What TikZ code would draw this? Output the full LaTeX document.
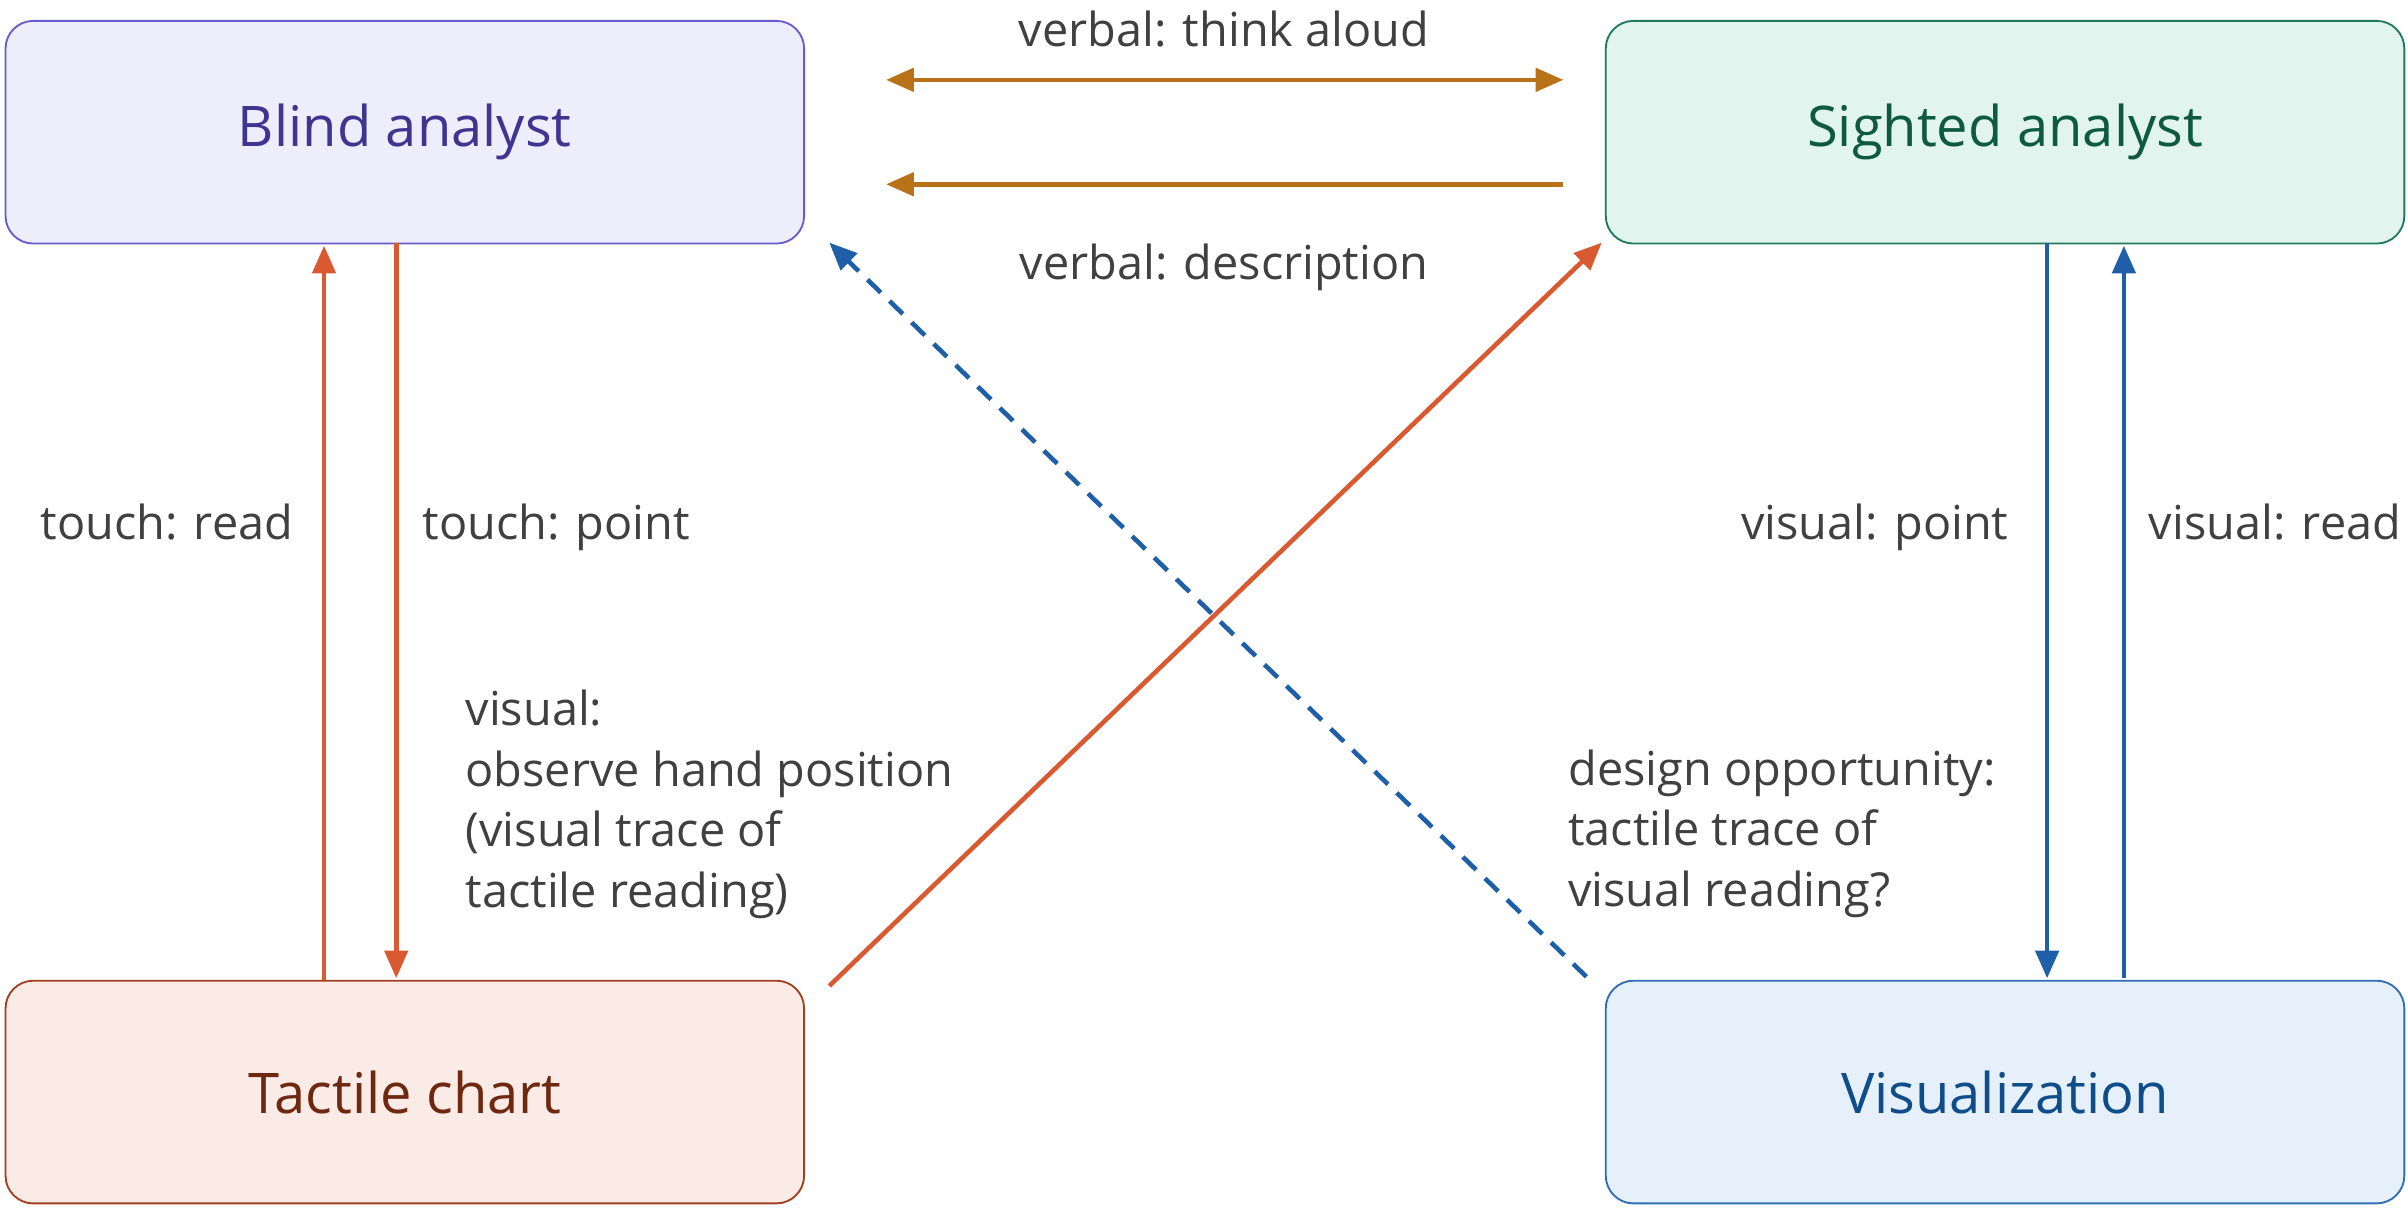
\documentclass[tikz,border=0pt]{standalone}
\usepackage{fontspec}
\setmainfont{Open Sans}
\usetikzlibrary{arrows.meta}
\definecolor{tg}{HTML}{404040}
\definecolor{cor}{HTML}{D95A30}
\definecolor{cvb}{HTML}{B87318}
\definecolor{cbl}{HTML}{1F5FA8}
\definecolor{bafill}{HTML}{EEEDFC}\definecolor{badraw}{HTML}{6A5ACD}\definecolor{batext}{HTML}{3F3590}
\definecolor{safill}{HTML}{E1F4EE}\definecolor{sadraw}{HTML}{1E7A5A}\definecolor{satext}{HTML}{0E5A40}
\definecolor{tcfill}{HTML}{FAEBE6}\definecolor{tcdraw}{HTML}{A0401E}\definecolor{tctext}{HTML}{6E2810}
\definecolor{vzfill}{HTML}{E6F0FA}\definecolor{vzdraw}{HTML}{2F6DB5}\definecolor{vztext}{HTML}{0F4C8A}
\begin{document}
\begin{tikzpicture}[x=1pt,y=-1pt,
 box/.style={draw,line width=1.2pt,rounded corners=18pt,minimum width=520pt,minimum height=145pt,font=\fontsize{36.5}{42}\selectfont,anchor=north west,inner sep=0pt},
 lbl/.style={text=tg,font=\fontsize{30.5}{39.5}\selectfont,inner sep=0pt},
 arr/.style={line width=3pt,-{Triangle[length=18pt,width=15pt]}},
 darr/.style={line width=3pt,{Triangle[length=18pt,width=15pt]}-{Triangle[length=18pt,width=15pt]}}]
\useasboundingbox (0,0) rectangle (1568,786);
\node[box,fill=bafill,draw=badraw,text=batext] (ba) at (3,13) {Blind analyst};
\node[box,fill=safill,draw=sadraw,text=satext] (sa) at (1045,13) {Sighted analyst};
\node[box,fill=tcfill,draw=tcdraw,text=tctext] (tc) at (3,638) {Tactile chart};
\node[box,fill=vzfill,draw=vzdraw,text=vztext] (vz) at (1045,638) {Visualization};
\coordinate (t1) at (577,52); \coordinate (t2) at (1018,52);
\coordinate (d1) at (1018,120); \coordinate (d2) at (577,120);
\draw[darr,cvb] (t1) -- (t2);
\draw[arr,cvb] (d1) -- (d2);
\node[lbl,anchor=base] (lt) at (797,30) {verbal: think aloud};
\node[lbl,anchor=base] (ld) at (797,182) {verbal: description};
\draw[arr,cor] (211,638) -- (211,160);
\draw[arr,cor] (258,158) -- (258,637);
\draw[arr,cor] (540,642) -- (1043,158);
\draw[arr,cbl,dash pattern=on 12pt off 8pt] (1033,636) -- (540,158);
\draw[arr,cbl] (1333,158) -- (1333,637);
\draw[arr,cbl] (1383,637) -- (1383,160);
\node[lbl,anchor=base east] (l1) at (191,351) {touch: read};
\node[lbl,anchor=base west] (l2) at (275,351) {touch: point};
\node[lbl,anchor=base east] (l3) at (1308,351) {visual: point};
\node[lbl,anchor=base west] (l4) at (1399,351) {visual: read};
\node[lbl,anchor=north west,align=left] (l5) at (303,449) {visual:\\observe hand position\\(visual trace of\\tactile reading)};
\node[lbl,anchor=north west,align=left] (l6) at (1021,488) {design opportunity:\\tactile trace of\\visual reading?};
\end{tikzpicture}
\end{document}
